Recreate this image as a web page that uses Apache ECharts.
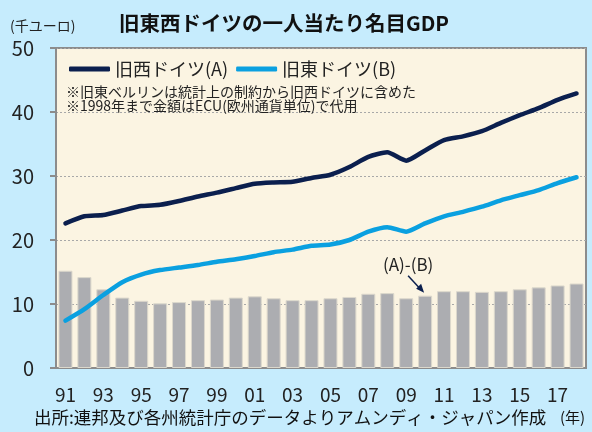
<!DOCTYPE html>
<html>
<head>
<meta charset="utf-8">
<script src="https://cdn.jsdelivr.net/npm/echarts@6/dist/echarts.min.js"></script>
<style>
  html, body { margin: 0; padding: 0; background: #c6ecfd; }
  #chart { width: 592px; height: 432px; }
</style>
</head>
<body>
<div id="chart"></div>
<script>
const years = ["91", "92", "93", "94", "95", "96", "97", "98", "99", "00",
  "01", "02", "03", "04", "05", "06", "07", "08", "09", "10",
  "11", "12", "13", "14", "15", "16", "17", "18"];
// 旧西ドイツ(A), 千ユーロ
const westGdp = [22.6, 23.7, 23.9, 24.6, 25.3, 25.5, 26.1, 26.8, 27.4, 28.1,
  28.8, 29.0, 29.1, 29.7, 30.2, 31.4, 33.0, 33.7, 32.4, 34.0,
  35.6, 36.2, 37.0, 38.3, 39.5, 40.6, 41.9, 42.9];
// 旧東ドイツ(B)
const eastGdp = [7.4, 9.2, 11.4, 13.4, 14.6, 15.3, 15.7, 16.1, 16.6, 17.0,
  17.5, 18.1, 18.5, 19.1, 19.3, 20.0, 21.3, 22.0, 21.3, 22.6,
  23.7, 24.4, 25.2, 26.2, 27.0, 27.8, 28.9, 29.8];
// (A)-(B)
const gap = [15.2, 14.2, 12.3, 11.0, 10.5, 10.1, 10.3, 10.6, 10.7, 11.0,
  11.2, 10.9, 10.6, 10.6, 10.9, 11.1, 11.6, 11.7, 10.9, 11.3,
  12.0, 12.0, 11.9, 12.0, 12.3, 12.6, 12.9, 13.2];
const yTicks = [0, 10, 20, 30, 40, 50];

const FONT = "'Noto Sans CJK JP', 'Noto Sans', sans-serif";
const NAVY = "#0b1f4e";
const SKY = "#0aa0e0";

const chart = echarts.init(document.getElementById("chart"));
chart.setOption({
  backgroundColor: "#c6ecfd",
  textStyle: { fontFamily: FONT },
  animation: false,
  title: {
    text: "旧東西ドイツの一人当たり名目GDP",
    left: 114,
    top: 8,
    textStyle: { fontFamily: FONT, fontSize: 20.5, fontWeight: "bold", color: "#111" },
  },
  legend: {
    data: [
      { name: "旧西ドイツ(A)", icon: "roundRect" },
      { name: "旧東ドイツ(B)", icon: "roundRect" },
    ],
    left: 64,
    top: 55,
    itemWidth: 41,
    itemHeight: 5,
    itemGap: 8,
    textStyle: { fontFamily: FONT, fontSize: 18, color: "#222" },
  },
  grid: {
    left: 56, right: 6, top: 48, bottom: 64,
    show: true,
    backgroundColor: "#fbf4e2",
    borderColor: "#8c8c8c",
    borderWidth: 2,
  },
  xAxis: {
    type: "category",
    data: years,
    axisLine: { lineStyle: { color: "#8c8c8c", width: 2 } },
    axisTick: { interval: 0, length: 5, lineStyle: { color: "#8c8c8c", width: 2 } },
    axisLabel: {
      interval: 1,
      margin: 17,
      fontSize: 19,
      color: "#222",
      fontFamily: FONT,
    },
  },
  yAxis: {
    type: "value",
    min: yTicks[0],
    max: yTicks[yTicks.length - 1],
    interval: 10,
    axisLine: { show: true, lineStyle: { color: "#8c8c8c", width: 2 } },
    axisTick: { show: true, length: 6, lineStyle: { color: "#8c8c8c", width: 2 } },
    axisLabel: { margin: 22, fontSize: 20, color: "#222", fontFamily: FONT },
    splitLine: { lineStyle: { color: "#a8a8a8", type: [2, 2], width: 1 } },
  },
  series: [
    {
      name: "(A)-(B)",
      type: "bar",
      data: gap,
      barCategoryGap: "26%",
      itemStyle: { color: "#acadb1", borderColor: "#dcd8cc", borderWidth: 1 },
      z: 1,
    },
    {
      name: "旧西ドイツ(A)",
      type: "line",
      data: westGdp,
      symbol: "none",
      smooth: 0.2,
      lineStyle: { color: NAVY, width: 4.5, cap: "round" },
      itemStyle: { color: NAVY },
      z: 3,
    },
    {
      name: "旧東ドイツ(B)",
      type: "line",
      data: eastGdp,
      symbol: "none",
      smooth: 0.2,
      lineStyle: { color: SKY, width: 4.5, cap: "round" },
      itemStyle: { color: SKY },
      z: 3,
    },
  ],
});

// annotations: notes, units, source, and the (A)-(B) arrow anchored to the 2010 bar
const anchor = chart.convertToPixel({ seriesIndex: 0 }, [19, gap[19]]);
chart.setOption({
  graphic: [
    {
      type: "text", left: 10, top: 19,
      style: { text: "(千ユーロ)", fontFamily: FONT, fontSize: 14, fill: "#222" },
    },
    {
      type: "text", left: 66, top: 84,
      style: {
        text: "※旧東ベルリンは統計上の制約から旧西ドイツに含めた\n※1998年まで金額はECU(欧州通貨単位)で代用",
        fontFamily: FONT, fontSize: 14, lineHeight: 14.5, fill: "#222",
      },
    },
    {
      type: "text", left: 34, top: 409,
      style: {
        text: "出所:連邦及び各州統計庁のデータよりアムンディ・ジャパン作成",
        fontFamily: FONT, fontSize: 17.5, fill: "#111",
      },
    },
    {
      type: "text", left: 560, top: 410,
      style: { text: "(年)", fontFamily: FONT, fontSize: 15, fill: "#111" },
    },
    {
      type: "text",
      x: anchor[0] - 17, y: anchor[1] - 23,
      style: {
        text: "(A)-(B)", fontFamily: FONT, fontSize: 17, fill: "#222",
        align: "center", verticalAlign: "bottom",
      },
    },
    {
      type: "line",
      shape: { x1: anchor[0] - 17, y1: anchor[1] - 20, x2: anchor[0] - 5, y2: anchor[1] - 7 },
      style: { stroke: NAVY, lineWidth: 1.5 },
    },
    {
      type: "polygon",
      shape: {
        points: [
          [anchor[0] - 1, anchor[1] - 3],
          [anchor[0] - 9, anchor[1] - 7],
          [anchor[0] - 4, anchor[1] - 12],
        ],
      },
      style: { fill: NAVY },
    },
  ],
});
</script>
</body>
</html>
